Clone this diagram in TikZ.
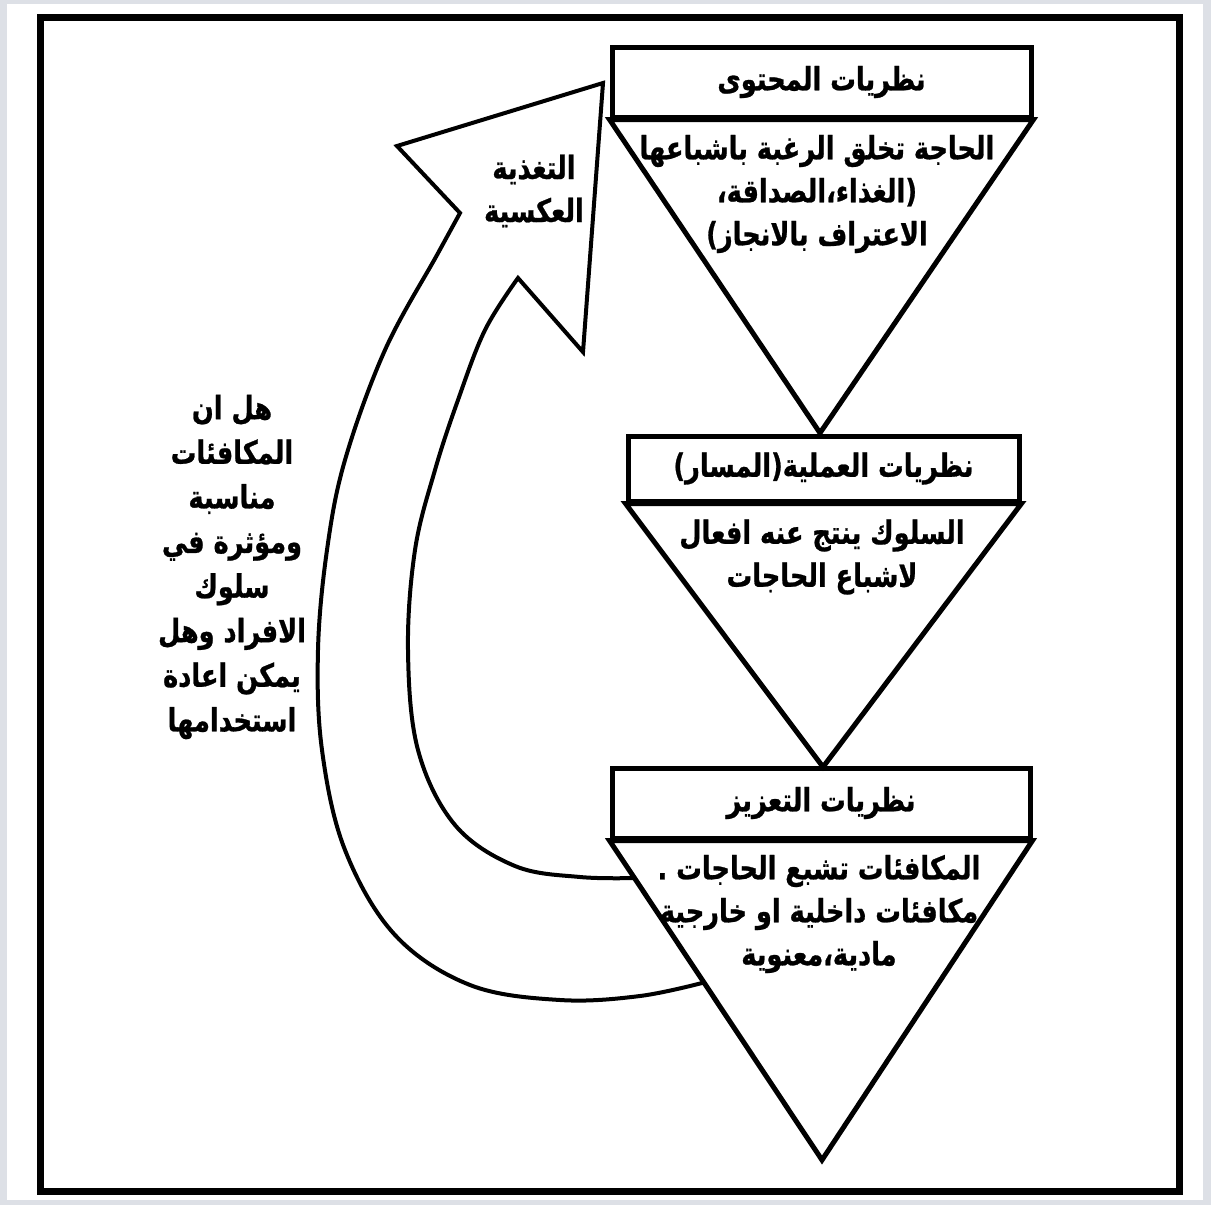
\documentclass[tikz,border=0pt]{standalone}
\usepackage{fontspec}
\TeXXeTstate=1
\newfontfamily\arabicfont[Script=Arabic, FakeStretch=0.8, BoldFeatures={FakeBold=0.8}]{DejaVu Sans}
\definecolor{pagegray}{RGB}{221,224,230}
\tikzset{
  hbox/.style={draw, line width=2.5pt, inner sep=0pt, fill=white,
    font=\arabicfont\bfseries\fontsize{16}{21.5}\selectfont},
  tri/.style={draw, line width=2.5pt, line join=miter, fill=white},
  txt/.style={align=center, inner sep=0pt,
    font=\arabicfont\bfseries\fontsize{16}{21.5}\selectfont},
  qtxt/.style={txt, font=\arabicfont\bfseries\fontsize{16}{22.3}\selectfont},
  fb/.style={draw, line width=2pt, line join=miter, fill=white},
}
\begin{document}
\begin{tikzpicture}[x=0.5pt,y=-0.5pt]
\useasboundingbox (0,0) rectangle (1211,1205);
\fill[pagegray] (0,0) rectangle (1211,1205);
\fill[white] (7,4) rectangle (1203,1200);
\draw[line width=3.5pt] (40,17) rectangle (1179,1191);

% feedback arrow
\draw[fb] plot[smooth,tension=0.6] coordinates {(706,982) (640,996) (560,1000) (470,985) (395,935) (345,850) (322,750) (318,650) (327,550) (345,460) (385,350) (437,255) (460,213)}
  -- (397,146) -- (603,83) -- (583,352)
  -- plot[smooth,tension=0.6] coordinates {(518,278) (485,330) (458,400) (435,470) (415,550) (408,650) (418,750) (455,825) (515,866) (580,877) (637,878)};

% boxes
\node[hbox, minimum width=209.5pt, minimum height=35pt] (b1) at (821.5,82) {\beginR نظريات المحتوى\endR};
\node[hbox, minimum width=195.5pt, minimum height=32.5pt] (b2) at (823.5,468.5) {\beginR نظريات العملية(المسار)\endR};
\node[hbox, minimum width=209pt, minimum height=35pt] (b3) at (821,803) {\beginR نظريات التعزيز\endR};

\coordinate (a1) at (820,433);
\coordinate (a2) at (823,767);
\coordinate (a3) at (822,1160);

\draw[tri] (b1.south west) -- (b1.south east) -- (a1) -- cycle;
\draw[tri] (b2.south west) -- (b2.south east) -- (a2) -- cycle;
\draw[tri] (b3.south west) -- (b3.south east) -- (a3) -- cycle;

\node[txt] (t1) at (817,194) {\beginR الحاجة تخلق الرغبة باشباعها\endR\\\beginR (الغذاء،الصداقة،\endR\\\beginR الاعتراف بالانجاز)\endR};
\node[txt] (t2) at (822,557) {\beginR السلوك ينتج عنه افعال\endR\\\beginR لاشباع الحاجات\endR};
\node[txt] (t3) at (819,914) {\beginR المكافئات تشبع الحاجات .\endR\\\beginR مكافئات داخلية او خارجية\endR\\\beginR مادية،معنوية\endR};

\node[txt] (fbt) at (534,191) {\beginR التغذية\endR\\\beginR العكسية\endR};

\node[qtxt] (q) at (232,567) {\beginR هل ان\endR\\\beginR المكافئات\endR\\\beginR مناسبة\endR\\\beginR ومؤثرة في\endR\\\beginR سلوك\endR\\\beginR الافراد وهل\endR\\\beginR يمكن اعادة\endR\\\beginR استخدامها\endR};
\end{tikzpicture}
\end{document}
